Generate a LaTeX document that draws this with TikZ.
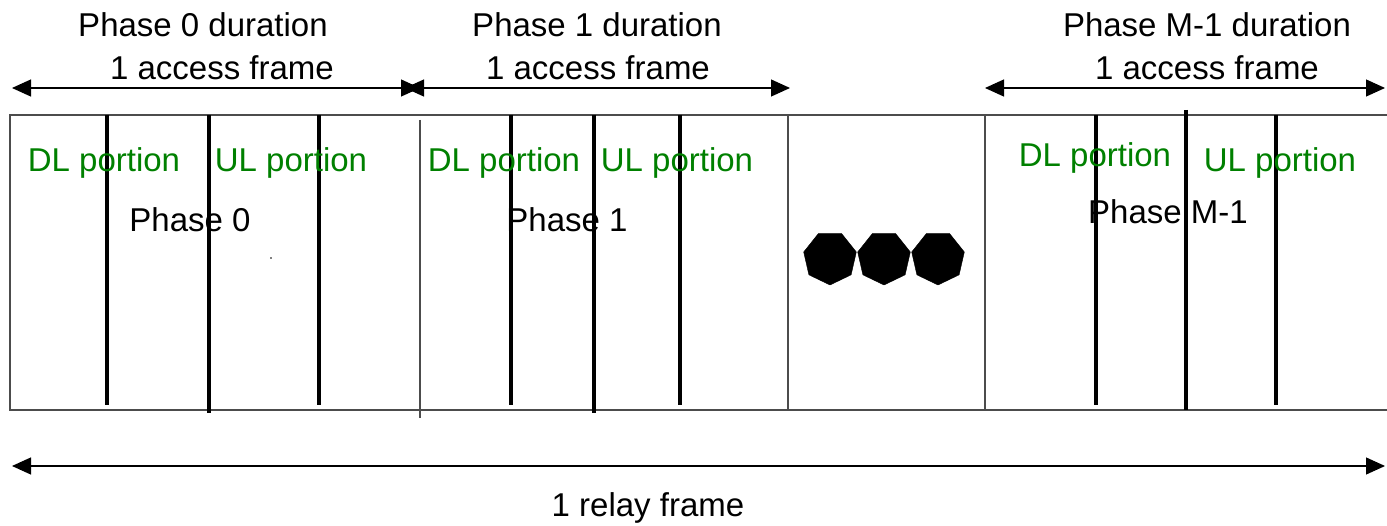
\documentclass[tikz,border=0pt]{standalone}
\usepackage{fontspec}
\setmainfont{Liberation Sans}
\usetikzlibrary{arrows.meta,shapes.geometric}

\begin{document}
\begin{tikzpicture}[
    x=1pt, y=-1pt,
    % general settings
    font=\fontsize{33}{38}\selectfont,
    % texts
    title/.style={text=black, inner sep=0pt},
    portion/.style={text=green!50!black, inner sep=0pt},
    phase/.style={text=black, inner sep=0pt},
    % lines
    frame/.style={draw=black!70, line width=1.3pt},
    split/.style={draw=black, line width=3.6pt},
    span/.style={black, line width=1.2pt, {Triangle[length=19pt,width=17pt]}-{Triangle[length=19pt,width=17pt]}},
    dots/.style={regular polygon, regular polygon sides=7, shape border rotate=180, minimum size=54pt, fill=black, draw=black, inner sep=0pt},
  ]
  \useasboundingbox (0,0) rectangle (1387,526);

  % titles above the frames
  \node (t0)  [title] at (203,25) {Phase 0 duration};
  \node (a0)  [title] at (222,68) {1 access frame};
  \node (t1)  [title] at (597,25) {Phase 1 duration};
  \node (a1)  [title] at (598,68) {1 access frame};
  \node (tm)  [title] at (1207,25) {Phase M-1 duration};
  \node (am)  [title] at (1207,68) {1 access frame};

  % ends of the duration arrows
  \coordinate (s0l) at (12,88);
  \coordinate (s0r) at (420,88);
  \coordinate (s1l) at (405,88);
  \coordinate (s1r) at (790,88);
  \coordinate (sml) at (985,88);
  \coordinate (smr) at (1385,88);

  \draw[span] (s0l) -- (s0r);
  \draw[span] (s1l) -- (s1r);
  \draw[span] (sml) -- (smr);

  % the relay frame
  \coordinate (fa) at (10,115);
  \coordinate (fb) at (1387,410);
  \draw[frame] (1387,115) -- (fa) |- (fb);
  \draw[frame] (420,120) -- (420,418);
  \draw[frame] (788,115) -- (788,410);
  \draw[frame] (985,115) -- (985,410);

  % DL / UL splits
  \draw[split] (107,115) -- (107,405);
  \draw[split] (209,115) -- (209,413);
  \draw[split] (319,115) -- (319,405);
  \draw[split] (511,115) -- (511,405);
  \draw[split] (594,115) -- (594,413);
  \draw[split] (680,115) -- (680,405);
  \draw[split] (1096,115) -- (1096,405);
  \draw[split] (1186,110) -- (1186,410);
  \draw[split] (1276,115) -- (1276,405);

  % portions and phases
  \node (dl0) [portion] at (104,163)  {DL portion};
  \node (ul0) [portion] at (291,163)  {UL portion};
  \node (p0)  [phase]   at (190,220)  {Phase 0};
  \node (dl1) [portion] at (504,163)  {DL portion};
  \node (ul1) [portion] at (677,163)  {UL portion};
  \node (p1)  [phase]   at (567,220)  {Phase 1};
  \node (dlm) [portion] at (1095,158) {DL portion};
  \node (ulm) [portion] at (1280,163) {UL portion};
  \node (pm)  [phase]   at (1168,212) {Phase M-1};

  \fill (271,258) circle (0.8pt);

  % more phases
  \node (d1) [dots] at (830,258) {};
  \node (d2) [dots] at (884,258) {};
  \node (d3) [dots] at (938,258) {};

  % relay frame span
  \coordinate (rl) at (12,466);
  \coordinate (rr) at (1385,466);
  \draw[span] (rl) -- (rr);
  \node (rf) [title] at (648,508) {1 relay frame};

\end{tikzpicture}
\end{document}
